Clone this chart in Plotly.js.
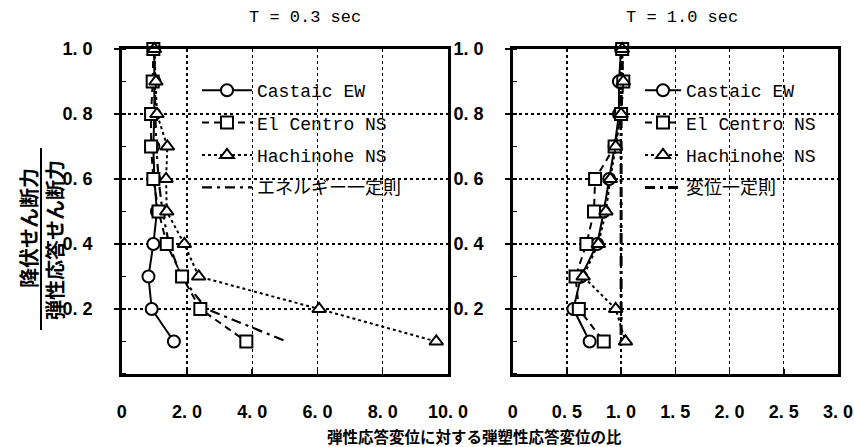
<!DOCTYPE html>
<html><head><meta charset="utf-8">
<script src="https://cdn.plot.ly/plotly-3.0.1.min.js"></script>
<style>body{margin:0;background:#fff}#chart{width:854px;height:447px}</style>
</head><body><div id="chart"></div>
<script>
// Ratio of yield shear force to elastic response shear force
const yieldRatio = [1.0, 0.9, 0.8, 0.7, 0.6, 0.5, 0.4, 0.3, 0.2, 0.1];

// T = 0.3 sec (left)
const castaicL  = [1.00, 1.00, 1.00, 0.97, 1.00, 1.08, 0.97, 0.82, 0.92, 1.60];
const centroL   = [0.97, 0.95, 0.90, 0.90, 0.97, 1.13, 1.38, 1.85, 2.41, 3.82];
const hachiL    = [1.00, 1.05, 1.08, 1.40, 1.36, 1.38, 1.92, 2.36, 6.05, 9.64];
const energyL   = [1.00, 1.01, 1.03, 1.06, 1.13, 1.25, 1.45, 1.82, 2.60, 5.05];

// T = 1.0 sec (right)
const castaicR  = [1.00, 0.98, 0.98, 0.94, 0.89, 0.84, 0.78, 0.63, 0.56, 0.71];
const centroR   = [1.01, 1.02, 1.00, 0.94, 0.76, 0.75, 0.68, 0.58, 0.61, 0.84];
const hachiR    = [1.01, 1.02, 1.00, 0.95, 0.90, 0.86, 0.79, 0.65, 0.95, 1.04];
const dispR     = [1.00, 1.00, 1.00, 1.00, 1.00, 1.00, 1.00, 1.00, 1.00, 1.00];

const names = ['Castaic EW', 'El Centro NS', 'Hachinohe NS'];
const ruleL = 'エネルギー一定則';
const ruleR = '変位一定則';

const yTickVals = [0.2, 0.4, 0.6, 0.8, 1.0];
const yTickText = ['0. 2', '0. 4', '0. 6', '0. 8', '1. 0'];
const xTickValsL = [0, 2, 4, 6, 8, 10];
const xTickTextL = ['0', '2. 0', '4. 0', '6. 0', '8. 0', '10. 0'];
const xTickValsR = [0, 0.5, 1.0, 1.5, 2.0, 2.5, 3.0];
const xTickTextR = ['0', '0. 5', '1. 0', '1. 5', '2. 0', '2. 5', '3. 0'];

const titles = ['T = 0.3 sec', 'T = 1.0 sec'];
const xTitle = '弾性応答変位に対する弾塑性応答変位の比';
const yTitleTop = '降伏せん断力';
const yTitleBottom = '弾性応答せん断力';

const monoFont = '"Liberation Mono", "DejaVu Sans Mono", monospace';
const narrowFont = '"Liberation Sans Narrow", "Liberation Sans", Arial, sans-serif';
const jpFont = '"Noto Sans CJK JP", sans-serif';

function mk(sym) {
  return {symbol: sym, size: 12, color: '#fff', line: {color: '#000', width: 2}};
}
function series(x, name, sym, dash, xa, leg, rank) {
  return {
    x: x, y: yieldRatio, name: name, type: 'scatter', mode: 'lines+markers',
    xaxis: xa, yaxis: xa === 'x' ? 'y' : 'y2', legend: leg, legendrank: rank,
    legendgroup: leg + rank,
    line: {color: '#000', width: 2, dash: dash}, marker: mk(sym), cliponaxis: false
  };
}
function rule(x, name, xa, leg, w) {
  return {
    x: x, y: yieldRatio, name: name, type: 'scatter', mode: 'lines',
    xaxis: xa, yaxis: xa === 'x' ? 'y' : 'y2', legend: leg, legendrank: 4,
    legendgroup: leg + 4,
    line: {color: '#000', width: w, dash: '10px,5px,3px,5px'}
  };
}

const data = [
  rule(energyL, ruleL, 'x', 'legend', 2.2),
  series(castaicL, names[0], 'circle', 'solid', 'x', 'legend', 1),
  series(centroL, names[1], 'square', '7px,5px', 'x', 'legend', 2),
  series(hachiL, names[2], 'triangle-up', 'dot', 'x', 'legend', 3),
  rule(dispR, ruleR, 'x2', 'legend2', 3),
  series(castaicR, names[0], 'circle', 'solid', 'x2', 'legend2', 1),
  series(centroR, names[1], 'square', '7px,5px', 'x2', 'legend2', 2),
  series(hachiR, names[2], 'triangle-up', 'dot', 'x2', 'legend2', 3)
];

const axBase = {
  showline: true, linecolor: '#000', linewidth: 2.5, mirror: true,
  showgrid: true, gridcolor: '#000', gridwidth: 1.3, griddash: 'dot',
  zeroline: false, tickcolor: '#000', tickwidth: 1.5, ticklabeloverflow: 'allow',
  tickfont: {family: narrowFont, size: 18, color: '#000', weight: 'bold'}
};
const yBase = Object.assign({}, axBase, {
  range: [0, 1], tickmode: 'array', tickvals: yTickVals, ticktext: yTickText,
  ticks: 'outside', ticklen: 5, ticklabelstandoff: 18,
  domain: [0.1633, 0.8904],
  minor: {dtick: 0.1, ticks: 'inside', ticklen: 4, tickcolor: '#000', showgrid: false}
});

const legFont = {family: monoFont + ', ' + jpFont, size: 18, color: '#000'};

const layout = {
  width: 854, height: 447,
  margin: {l: 0, r: 0, t: 0, b: 0},
  paper_bgcolor: '#fff', plot_bgcolor: '#fff',
  showlegend: true,
  xaxis: Object.assign({}, axBase, {
    range: [0, 10], domain: [0.1425, 0.5246], tickmode: 'array',
    tickvals: xTickValsL, ticktext: xTickTextL, ticks: 'inside', ticklen: 5,
    ticklabelstandoff: 20, anchor: 'y'
  }),
  yaxis: Object.assign({}, yBase, {anchor: 'x'}),
  xaxis2: Object.assign({}, axBase, {
    range: [0, 3], domain: [0.6003, 0.9813], tickmode: 'array',
    tickvals: xTickValsR, ticktext: xTickTextR, ticks: 'inside', ticklen: 5,
    ticklabelstandoff: 20, anchor: 'y2'
  }),
  yaxis2: Object.assign({}, yBase, {anchor: 'x2'}),
  legend: {
    x: 197 / 854, y: 1 - 72 / 447, xanchor: 'left', yanchor: 'top', bgcolor: 'rgba(0,0,0,0)',
    font: legFont, itemwidth: 50, tracegroupgap: 6, traceorder: 'grouped'
  },
  legend2: {
    x: 640 / 854, y: 1 - 72 / 447, xanchor: 'left', yanchor: 'top', bgcolor: 'rgba(0,0,0,0)',
    font: legFont, itemwidth: 36, tracegroupgap: 6, traceorder: 'grouped'
  },
  annotations: [
    {text: titles[0], xref: 'paper', yref: 'paper', x: 305 / 854, y: 1 - 18 / 447,
     xanchor: 'center', yanchor: 'middle',
     showarrow: false, font: {family: monoFont, size: 17, color: '#000'}},
    {text: titles[1], xref: 'paper', yref: 'paper', x: 682 / 854, y: 1 - 18 / 447,
     xanchor: 'center', yanchor: 'middle',
     showarrow: false, font: {family: monoFont, size: 17, color: '#000'}},
    {text: '<b>' + xTitle + '</b>', xref: 'paper', yref: 'paper', x: 475 / 854, y: 1 - 436 / 447,
     xanchor: 'center', yanchor: 'middle',
     showarrow: false, font: {family: jpFont, size: 15.5, color: '#000'}},
    {text: '<b>' + yTitleTop + '</b>', xref: 'paper', yref: 'paper', x: 28 / 854, y: 1 - 228 / 447,
     xanchor: 'center', yanchor: 'middle',
     showarrow: false, textangle: -90, font: {family: jpFont, size: 20, color: '#000'}},
    {text: '<b>' + yTitleBottom + '</b>', xref: 'paper', yref: 'paper', x: 54 / 854, y: 1 - 240 / 447,
     xanchor: 'center', yanchor: 'middle',
     showarrow: false, textangle: -90, font: {family: jpFont, size: 20, color: '#000'}}
  ],
  shapes: [
    {type: 'line', xref: 'paper', yref: 'paper', x0: 41 / 854, x1: 41 / 854,
     y0: 1 - 148 / 447, y1: 1 - 330 / 447, line: {color: '#000', width: 2}}
  ]
};

Plotly.newPlot('chart', data, layout, {displayModeBar: false, staticPlot: true});
</script></body></html>
